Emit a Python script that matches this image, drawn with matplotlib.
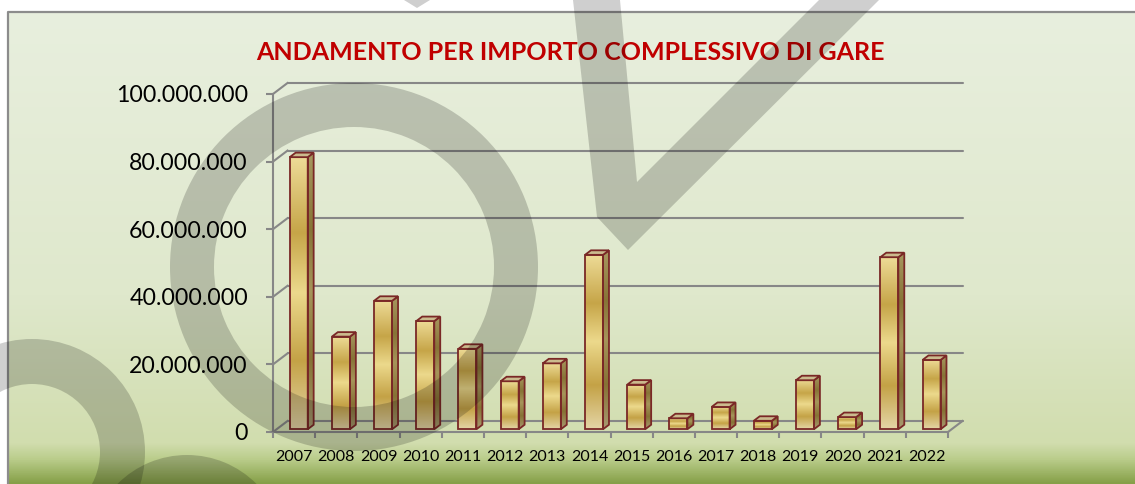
import numpy as np
import matplotlib
matplotlib.use('Agg')
import matplotlib.pyplot as plt
from matplotlib.colors import LinearSegmentedColormap
from matplotlib.patches import Polygon, Wedge, Rectangle

# importo complessivo delle gare per anno
anni = ['2007', '2008', '2009', '2010', '2011', '2012', '2013', '2014',
        '2015', '2016', '2017', '2018', '2019', '2020', '2021', '2022']
importi = [80.5e6, 27.4e6, 38.0e6, 32.0e6, 23.8e6, 14.2e6, 19.5e6, 51.6e6,
           13.2e6, 3.25e6, 6.6e6, 2.5e6, 14.5e6, 3.6e6, 50.9e6, 20.5e6]
y_ticks = [0, 20e6, 40e6, 60e6, 80e6, 100e6]
titolo = 'ANDAMENTO PER IMPORTO COMPLESSIVO DI GARE'

W, H = 1135, 484
fig = plt.figure(figsize=(W / 100, H / 100), dpi=100)

# sfondo sfumato verde
bg = fig.add_axes([0, 0, 1, 1], zorder=0)
bg_cmap = LinearSegmentedColormap.from_list('sfondo', [
    (0.0, '#e8efde'), (0.6, '#dfe8cc'), (0.915, '#d1ddae'),
    (0.95, '#b9cc8a'), (1.0, '#86a048')])
bg.imshow(np.linspace(0, 1, 256).reshape(-1, 1), cmap=bg_cmap,
          extent=(8, W, H, 12), aspect='auto', origin='upper')
bg.plot([8, 8, W], [H, 12, 12], color='#8c8c8c', lw=1.6)
bg.set_xlim(0, W)
bg.set_ylim(H, 0)
bg.axis('off')

# area del grafico (piano frontale)
px0, px1, py0, py1 = 273, 948, 432, 94
ax = fig.add_axes([px0 / W, 1 - py0 / H, (px1 - px0) / W, (py0 - py1) / H], zorder=1)
ax.patch.set_alpha(0)
n = len(anni)
ux = n / (px1 - px0)
uy = 100e6 / (py0 - py1)
DX = 14.5 * ux
DY = 11 * uy
grid_col = '#878787'

# pareti: griglia di fondo e diagonali sul lato sinistro
for v in y_ticks:
    ax.plot([DX, n + DX], [v + DY, v + DY], color=grid_col, lw=1.5,
            clip_on=False, solid_capstyle='round', zorder=1)
    ax.plot([0, DX], [v, v + DY], color=grid_col, lw=1.5, clip_on=False, zorder=1)
# pavimento
ax.plot([n, n + DX], [0, DY], color=grid_col, lw=1.5, clip_on=False, zorder=1)

# colonne 3D con sfumatura oro
front_cmap = LinearSegmentedColormap.from_list('oro', [
    (0.0, '#e4d5a6'), (0.25, '#c4a246'), (0.5, '#ecd98c'),
    (0.72, '#c6a548'), (1.0, '#eedc98')])
side_cmap = LinearSegmentedColormap.from_list('oro_lato', [
    (0.0, '#a89a70'), (0.25, '#867234'), (0.5, '#a6955a'),
    (0.72, '#877436'), (1.0, '#a89860')])
edge_col = '#7a2826'
grad = np.linspace(0, 1, 256).reshape(-1, 1)
f0, f1 = 0.25, 0.66
bw = 18 * ux
sx, sy = (f1 - f0) * DX, (f1 - f0) * DY

for i, v in enumerate(importi):
    xc = i + 0.5 + f0 * DX + 1 * ux
    xl, xr = xc - bw / 2, xc + bw / 2
    yb, yt = f0 * DY, f0 * DY + v
    ax.imshow(grad, cmap=front_cmap, extent=(xl, xr, yb, yt), origin='lower',
              aspect='auto', zorder=3)
    ax.add_patch(Rectangle((xl, yb), xr - xl, yt - yb, fill=False,
                           ec=edge_col, lw=1.3, zorder=4))
    side = Polygon([(xr, yb), (xr + sx, yb + sy), (xr + sx, yt + sy), (xr, yt)],
                   closed=True, fill=False, ec=edge_col, lw=1.3, zorder=4)
    ax.add_patch(side)
    im = ax.imshow(grad, cmap=side_cmap, extent=(xr, xr + sx, yb, yt + sy),
                   origin='lower', aspect='auto', zorder=3)
    im.set_clip_path(side)
    ax.add_patch(Polygon([(xl, yt), (xr, yt), (xr + sx, yt + sy), (xl + sx, yt + sy)],
                         closed=True, fc='#cbbb8e', ec=edge_col, lw=1.3, zorder=4))

ax.set_xlim(0, n)
ax.set_ylim(0, 100e6)

# assi
for s in ['top', 'right']:
    ax.spines[s].set_visible(False)
for s in ['left', 'bottom']:
    ax.spines[s].set_color(grid_col)
    ax.spines[s].set_linewidth(1.5)
    ax.spines[s].set_zorder(2)
ax.set_yticks(y_ticks)
ax.set_yticklabels([f'{int(v):,}'.replace(',', '.') for v in y_ticks])
ax.tick_params(axis='y', length=5, width=1.5, color=grid_col, pad=13,
               labelsize=16.7, labelcolor='black')
ax.set_xticks(np.arange(n + 1))
ax.set_xticklabels([])
ax.set_xticks(np.arange(n) + 0.5, minor=True)
ax.set_xticklabels(anni, minor=True)
ax.tick_params(axis='x', which='major', length=4, width=1.5, color=grid_col)
ax.tick_params(axis='x', which='minor', length=0, pad=13, labelsize=11.5)
for lab in ax.get_yticklabels() + ax.get_xticklabels(minor=True):
    lab.set_family('Lato')

fig.text(570 / W, 1 - 52 / H, titolo, ha='center', va='center', fontsize=18,
         fontweight='bold', color='#c00000', family='Lato', zorder=2)

# logo in filigrana sovrapposto
wm = fig.add_axes([0, 0, 1, 1], zorder=5)
wm.patch.set_alpha(0)
wm_kw = dict(fc='black', alpha=0.19, ec='none')
wm.add_patch(Wedge((354, 267), 184, 0, 360, width=44, **wm_kw))
wm.add_patch(Wedge((32, 452), 113, 0, 360, width=45, **wm_kw))
wm.add_patch(Wedge((187, 553), 98, 0, 360, width=45, **wm_kw))
wm.add_patch(Polygon([(573, 0), (620, 0), (637, 182), (819, 0), (879, 0),
                      (628, 250), (597, 217)], closed=True, **wm_kw))
wm.add_patch(Polygon([(404, 0), (430, 0), (417, 8)], closed=True, **wm_kw))
wm.set_xlim(0, W)
wm.set_ylim(H, 0)
wm.axis('off')

fig.savefig('out.png', dpi=100)
